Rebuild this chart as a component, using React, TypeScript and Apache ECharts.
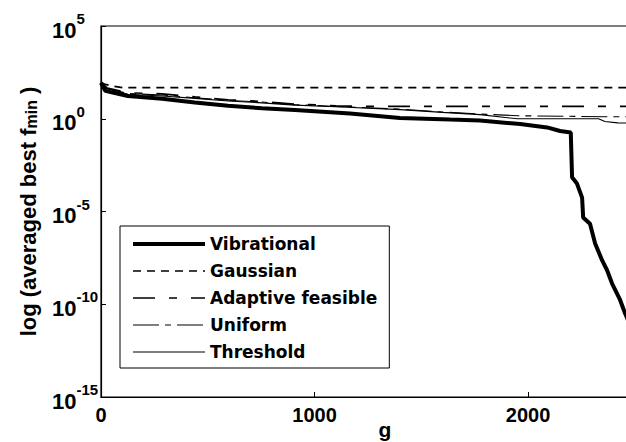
import React, { useEffect, useRef } from "react";
import * as echarts from "echarts";

// generations (g) and averaged best f_min values
const vibG = [0, 20, 126, 286, 440, 595, 754, 908, 1166, 1400, 1635, 1775, 1963, 2089, 2150, 2200, 2206, 2229, 2253, 2258, 2290, 2314, 2347, 2370, 2393, 2431, 2454, 2500];
const vibV = [87, 32, 17, 12, 7.6, 5.0, 3.7, 3.0, 1.9, 1.1, 0.9, 0.8, 0.52, 0.34, 0.22, 0.18, 7e-4, 3.2e-4, 5.6e-5, 4.8e-6, 2.2e-6, 1.9e-7, 2.3e-8, 6.8e-9, 1.35e-9, 1.7e-10, 3.3e-11, 2e-12];

const gauG = [0, 20, 60, 100, 2660];
const gauV = [89, 71, 56, 48, 48];

const adaG = [0, 30, 126, 286, 440, 595, 754, 908, 1100, 1300, 2660];
const adaV = [89, 45, 25, 22, 15, 10.5, 8.5, 6.2, 5.0, 4.6, 4.6];

const uniG = [0, 30, 126, 286, 440, 595, 754, 908, 1100, 1400, 1600, 1775, 1950, 2360, 2660];
const uniV = [89, 42, 23, 19, 13.5, 9.8, 8.0, 5.8, 4.6, 3.3, 2.3, 1.8, 1.45, 1.29, 1.29];

const thrG = [0, 30, 126, 286, 440, 595, 754, 908, 1100, 1400, 1600, 1775, 1950, 2330, 2360, 2420, 2660];
const thrV = [89, 40, 21, 17, 12.5, 9.0, 7.2, 5.4, 4.4, 3.1, 2.2, 1.66, 1.0, 1.0, 0.71, 0.6, 0.55];

const seriesNames = ["Vibrational", "Gaussian", "Adaptive feasible", "Uniform", "Threshold"];
const xTicks = [0, 1000, 2000];

const FONT = "Liberation Sans";
const LEG_FONT = "DejaVu Sans";

const pairs = (g: number[], v: number[]) => g.map((x, i) => [x, v[i]]);

export default function App() {
  const ref = useRef<HTMLDivElement>(null);
  useEffect(() => {
    const chart = echarts.init(ref.current!, null, { renderer: "svg" });
    const mk = (name: string, data: number[][], width: number, type: any) => ({
      name,
      type: "line",
      data,
      symbol: "none",
      showSymbol: false,
      itemStyle: { color: "#000" },
      lineStyle: { color: "#000", width, type },
      z: name === "Vibrational" ? 5 : 3,
    });
    const dashes: any[] = ["solid", [8, 6], [22, 14, 8, 14], [26, 6, 6, 6], "solid"];
    const widths = [4, 1.7, 1.7, 1.1, 1.1];
    chart.setOption({
      animation: false,
      backgroundColor: "#fff",
      grid: {
        left: 101, top: 26, width: 568, height: 371,
        outerBoundsMode: "none", containLabel: false,
        show: true, borderColor: "#000", borderWidth: 1.2,
      },
      xAxis: {
        type: "value",
        min: 0,
        max: 2660,
        interval: 1000,
        name: "g",
        nameLocation: "middle",
        nameGap: 22,
        nameMoveOverlap: false,
        nameTextStyle: { fontFamily: FONT, fontWeight: "bold", fontSize: 21, color: "#000", lineHeight: 21 },
        axisLine: { lineStyle: { color: "#000", width: 1.2 } },
        axisTick: { inside: true, length: 5, lineStyle: { color: "#000" } },
        axisLabel: {
          fontFamily: FONT, fontWeight: "bold", fontSize: 20, color: "#000", margin: 8,
          formatter: (v: number) => (xTicks.includes(v) ? String(v) : ""),
        },
        splitLine: { show: false },
      },
      yAxis: {
        type: "log",
        logBase: 10,
        min: 1e-15,
        max: 1e5,
        interval: 5,
        name: "{a|log (averaged best f}{s|min}{a| )}",
        nameLocation: "middle",
        nameRotate: 90,
        nameGap: 62,
        nameMoveOverlap: false,
        nameTextStyle: {
          rich: {
            a: { fontFamily: FONT, fontWeight: "bold", fontSize: 22, color: "#000", lineHeight: 26, verticalAlign: "bottom" },
            s: { fontFamily: FONT, fontWeight: "bold", fontSize: 16, color: "#000", lineHeight: 16, verticalAlign: "bottom" },
          },
        },
        axisLine: { show: true, lineStyle: { color: "#000", width: 1.2 } },
        axisTick: { show: true, inside: true, length: 5, lineStyle: { color: "#000" } },
        minorTick: { show: false },
        splitLine: { show: false },
        axisLabel: {
          margin: 49,
          align: "left",
          formatter: (v: number) => {
            const e = Math.round(Math.log10(v));
            return `{b|10}{e|${e}}`;
          },
          rich: {
            b: { fontFamily: FONT, fontWeight: "bold", fontSize: 22, color: "#000", lineHeight: 30, verticalAlign: "bottom" },
            e: { fontFamily: FONT, fontWeight: "bold", fontSize: 15, color: "#000", lineHeight: 15, verticalAlign: "top" },
          },
        },
      },
      legend: {
        orient: "vertical",
        left: 120,
        top: 226,
        padding: [9.5, 12, 7.5, 11],
        itemGap: 10,
        itemWidth: 72,
        itemHeight: 17,
        borderColor: "#000",
        borderWidth: 1,
        backgroundColor: "#fff",
        itemStyle: { opacity: 0 },
        textStyle: { fontFamily: LEG_FONT, fontWeight: "bold", fontSize: 17, color: "#000" },
        data: seriesNames.map((n, i) => ({ name: n, lineStyle: { width: widths[i], type: dashes[i] } })),
      },
      series: [
        mk(seriesNames[0], pairs(vibG, vibV), widths[0], dashes[0]),
        mk(seriesNames[1], pairs(gauG, gauV), widths[1], dashes[1]),
        mk(seriesNames[2], pairs(adaG, adaV), widths[2], dashes[2]),
        mk(seriesNames[3], pairs(uniG, uniV), widths[3], dashes[3]),
        mk(seriesNames[4], pairs(thrG, thrV), widths[4], dashes[4]),
      ],
    });
    return () => chart.dispose();
  }, []);
  return (
    <div
      ref={ref}
      style={{ position: "fixed", left: 0, top: 0, width: 626, height: 442, background: "#fff" }}
    />
  );
}
